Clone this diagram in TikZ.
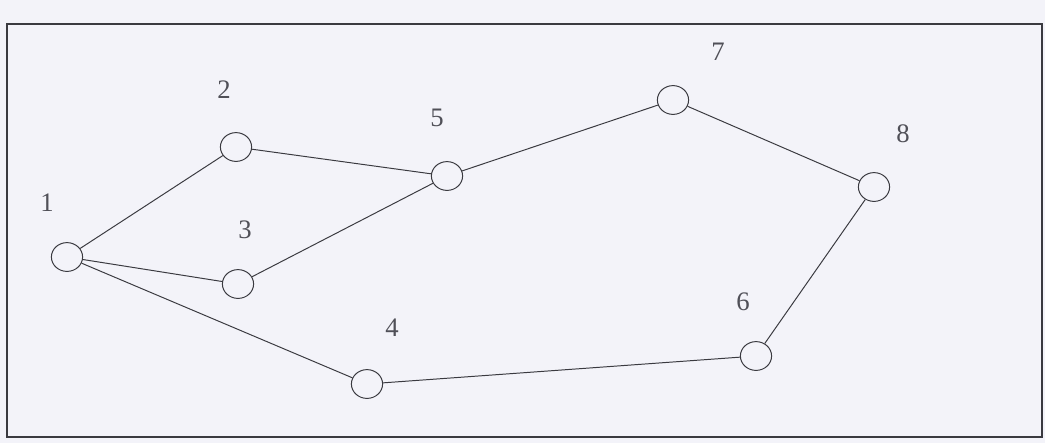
\documentclass[tikz,border=0pt]{standalone}
\usepackage{fontspec}
\setmainfont{Liberation Serif}
\usepackage{tikz}
\usetikzlibrary{shapes.geometric}
\definecolor{paper}{HTML}{F3F3F9}
\definecolor{ink}{HTML}{3A3A40}
\definecolor{numink}{HTML}{505058}
\tikzset{
  vtx/.style={ellipse, draw=ink, line width=0.7pt, fill=paper, minimum width=0.78cm, minimum height=0.72cm, inner sep=0pt},
  num/.style={text=numink, font=\fontsize{19}{22}\selectfont, inner sep=0pt},
  edge/.style={draw=ink, line width=0.7pt},
}

\begin{document}
\begin{tikzpicture}
  % page and frame
  \fill[paper] (0,0) rectangle (26.125,-11.075);
  \useasboundingbox (0,0) rectangle (26.125,-11.075);
  \draw[draw=ink, line width=0.8pt] (0.175,-0.6) rectangle (26.05,-10.925);
  % vertices
  \node[vtx](v1) at (1.675,-6.425){};
  \node[vtx](v2) at (5.9,-3.675){};
  \node[vtx](v3) at (5.95,-7.1){};
  \node[vtx](v4) at (9.175,-9.6){};
  \node[vtx](v5) at (11.175,-4.4){};
  \node[vtx](v6) at (18.9,-8.9){};
  \node[vtx](v7) at (16.825,-2.5){};
  \node[vtx](v8) at (21.85,-4.675){};
  % numbers
  \node[num](t1) at (1.175,-5.075){1};
  \node[num](t2) at (5.6,-2.25){2};
  \node[num](t3) at (6.125,-5.75){3};
  \node[num](t4) at (9.8,-8.2){4};
  \node[num](t5) at (10.925,-2.95){5};
  \node[num](t6) at (18.575,-7.55){6};
  \node[num](t7) at (17.95,-1.3){7};
  \node[num](t8) at (22.575,-3.35){8};
  % edges
  \draw[edge] (v1) -- (v2);
  \draw[edge] (v1) -- (v3);
  \draw[edge] (v1) -- (v4);
  \draw[edge] (v2) -- (v5);
  \draw[edge] (v3) -- (v5);
  \draw[edge] (v5) -- (v7);
  \draw[edge] (v7) -- (v8);
  \draw[edge] (v8) -- (v6);
  \draw[edge] (v4) -- (v6);
\end{tikzpicture}
\end{document}
